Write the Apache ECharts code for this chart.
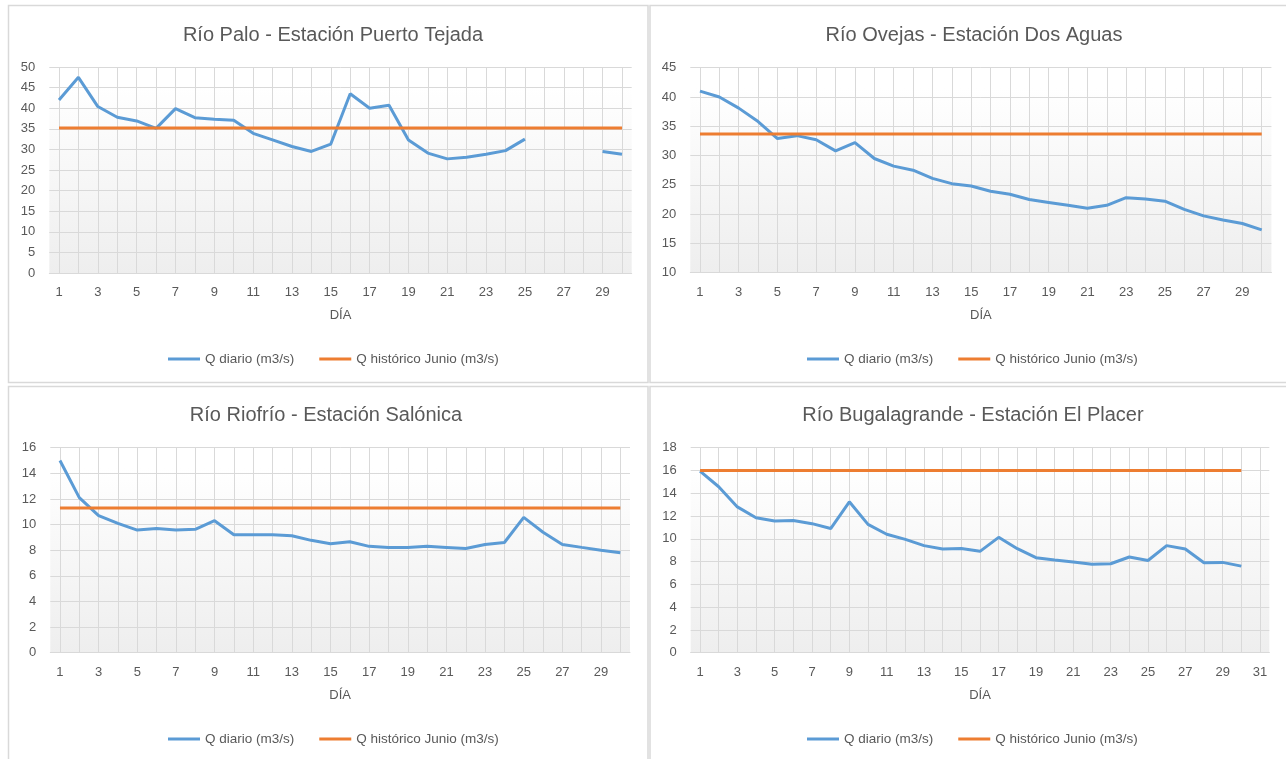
<!DOCTYPE html>
<html>
<head>
<meta charset="utf-8">
<script src="https://cdn.jsdelivr.net/npm/echarts@6/dist/echarts.min.js"></script>
<style>
html,body{margin:0;padding:0;background:#fff;}
#c{width:1286px;height:759px;}
</style>
</head>
<body>
<div id="c"></div>
<script>
// ---- Data ----
const dias30 = ['1','2','3','4','5','6','7','8','9','10','11','12','13','14','15','16','17','18','19','20','21','22','23','24','25','26','27','28','29','30'];
const dias31 = ['1','2','3','4','5','6','7','8','9','10','11','12','13','14','15','16','17','18','19','20','21','22','23','24','25','26','27','28','29','30','31'];

const titulos = ['Río Palo - Estación Puerto Tejada', 'Río Ovejas - Estación Dos Aguas', 'Río Riofrío - Estación Salónica', 'Río Bugalagrande - Estación El Placer'];
const nombreDiario = 'Q diario (m3/s)';
const nombreHistorico = 'Q histórico Junio (m3/s)';
const nombreEje = 'DÍA';

const palo_diario = [42.0, 47.5, 40.4, 37.8, 36.9, 35.1, 39.9, 37.7, 37.3, 37.1, 33.9, 32.3, 30.7, 29.5, 31.3, 43.5, 40.0, 40.7, 32.3, 29.1, 27.7, 28.1, 28.8, 29.7, 32.5, null, null, null, 29.5, 28.8];
const palo_historico = [35.2, 35.2, 35.2, 35.2, 35.2, 35.2, 35.2, 35.2, 35.2, 35.2, 35.2, 35.2, 35.2, 35.2, 35.2, 35.2, 35.2, 35.2, 35.2, 35.2, 35.2, 35.2, 35.2, 35.2, 35.2, 35.2, 35.2, 35.2, 35.2, 35.2];

const ovejas_diario = [41.0, 40.0, 38.1, 35.8, 32.9, 33.4, 32.7, 30.8, 32.2, 29.5, 28.2, 27.5, 26.1, 25.2, 24.8, 23.9, 23.4, 22.5, 22.0, 21.5, 21.0, 21.5, 22.8, 22.6, 22.2, 20.8, 19.7, 19.0, 18.4, 17.3];
const ovejas_historico = [33.7, 33.7, 33.7, 33.7, 33.7, 33.7, 33.7, 33.7, 33.7, 33.7, 33.7, 33.7, 33.7, 33.7, 33.7, 33.7, 33.7, 33.7, 33.7, 33.7, 33.7, 33.7, 33.7, 33.7, 33.7, 33.7, 33.7, 33.7, 33.7, 33.7];

const riofrio_diario = [15.0, 12.1, 10.7, 10.1, 9.57, 9.7, 9.57, 9.63, 10.3, 9.2, 9.2, 9.2, 9.13, 8.77, 8.5, 8.66, 8.3, 8.22, 8.22, 8.3, 8.22, 8.14, 8.45, 8.6, 10.56, 9.4, 8.45, 8.22, 8.0, 7.8];
const riofrio_historico = [11.3, 11.3, 11.3, 11.3, 11.3, 11.3, 11.3, 11.3, 11.3, 11.3, 11.3, 11.3, 11.3, 11.3, 11.3, 11.3, 11.3, 11.3, 11.3, 11.3, 11.3, 11.3, 11.3, 11.3, 11.3, 11.3, 11.3, 11.3, 11.3, 11.3];

const bugala_diario = [15.95, 14.57, 12.8, 11.85, 11.56, 11.6, 11.33, 10.9, 13.25, 11.27, 10.4, 9.95, 9.4, 9.1, 9.15, 8.9, 10.13, 9.13, 8.34, 8.14, 7.96, 7.76, 7.81, 8.4, 8.1, 9.4, 9.1, 7.9, 7.93, 7.6, null];
const bugala_historico = [16.0, 16.0, 16.0, 16.0, 16.0, 16.0, 16.0, 16.0, 16.0, 16.0, 16.0, 16.0, 16.0, 16.0, 16.0, 16.0, 16.0, 16.0, 16.0, 16.0, 16.0, 16.0, 16.0, 16.0, 16.0, 16.0, 16.0, 16.0, 16.0, 16.0, null];

// y-axis ranges: [min, max, interval]
const ejesY = [[0, 50, 5], [10, 45, 5], [0, 16, 2], [0, 18, 2]];

// ---- Layout / style ----
const FONT = 'Liberation Sans';
const GREY = '#595959';
const GRID_COLOR = '#d9d9d9';
const BLUE = '#5B9BD5';
const ORANGE = '#ED7D31';

const panels = [
  {grid: {left: 49.3, top: 67, width: 582.4, height: 206}, titleX: 328, titleY: 20, legendX: 163, legendY: 347, cats: dias30, diario: palo_diario, hist: palo_historico},
  {grid: {left: 690.3, top: 67.7, width: 581.1, height: 205}, titleX: 969, titleY: 20, legendX: 802, legendY: 347, cats: dias30, diario: ovejas_diario, hist: ovejas_historico},
  {grid: {left: 50.3, top: 447.7, width: 579.7, height: 205}, titleX: 321, titleY: 400, legendX: 163, legendY: 727, cats: dias30, diario: riofrio_diario, hist: riofrio_historico},
  {grid: {left: 690.7, top: 447.7, width: 578.6, height: 205}, titleX: 968, titleY: 400, legendX: 802, legendY: 727, cats: dias31, diario: bugala_diario, hist: bugala_historico}
];

const bgGradient = {
  type: 'linear', x: 0, y: 0, x2: 0, y2: 1,
  colorStops: [
    {offset: 0, color: '#ffffff'},
    {offset: 0.1, color: '#ffffff'},
    {offset: 1, color: '#eeeeee'}
  ]
};

const option = {
  animation: false,
  backgroundColor: '#ffffff',
  textStyle: {fontFamily: FONT},
  title: [], legend: [], grid: [], xAxis: [], yAxis: [], series: [],
  graphic: [
    {type: 'rect', shape: {x: 8.5, y: 5.5, width: 639.5, height: 377}, style: {fill: 'none', stroke: GRID_COLOR, lineWidth: 1.5}, silent: true},
    {type: 'rect', shape: {x: 650, y: 5.5, width: 640, height: 377}, style: {fill: 'none', stroke: GRID_COLOR, lineWidth: 1.5}, silent: true},
    {type: 'rect', shape: {x: 8.5, y: 386.5, width: 639.5, height: 380}, style: {fill: 'none', stroke: GRID_COLOR, lineWidth: 1.5}, silent: true},
    {type: 'rect', shape: {x: 650, y: 386.5, width: 640, height: 380}, style: {fill: 'none', stroke: GRID_COLOR, lineWidth: 1.5}, silent: true}
  ]
};

panels.forEach((p, i) => {
  option.title.push({
    text: titulos[i], left: p.titleX, top: p.titleY, textAlign: 'center',
    textStyle: {fontFamily: FONT, fontSize: 20, fontWeight: 'normal', color: GREY}
  });
  option.legend.push({
    left: p.legendX, top: p.legendY, orient: 'horizontal',
    data: [nombreDiario, nombreHistorico],
    icon: 'rect', itemWidth: 32, itemHeight: 3, itemGap: 25,
    textStyle: {fontFamily: FONT, fontSize: 13.5, color: GREY},
    selectedMode: false
  });
  option.grid.push(Object.assign({show: true, backgroundColor: bgGradient, borderWidth: 0, containLabel: false}, p.grid));
  option.xAxis.push({
    type: 'category', gridIndex: i, data: p.cats, boundaryGap: true,
    name: nombreEje, nameLocation: 'middle', nameGap: 36,
    nameTextStyle: {fontFamily: FONT, fontSize: 13, color: GREY},
    axisLine: {show: true, lineStyle: {color: GRID_COLOR, width: 1}},
    axisTick: {show: false},
    axisLabel: {interval: 1, margin: 13, fontFamily: FONT, fontSize: 13, color: GREY},
    splitLine: {show: true, interval: 0, alignWithLabel: true, lineStyle: {color: GRID_COLOR, width: 1}}
  });
  option.yAxis.push({
    type: 'value', gridIndex: i, min: ejesY[i][0], max: ejesY[i][1], interval: ejesY[i][2],
    axisLine: {show: false}, axisTick: {show: false},
    axisLabel: {margin: 14, fontFamily: FONT, fontSize: 13, color: GREY},
    splitLine: {show: true, lineStyle: {color: GRID_COLOR, width: 1}}
  });
  option.series.push({
    name: nombreDiario, type: 'line', xAxisIndex: i, yAxisIndex: i, data: p.diario,
    symbol: 'none', connectNulls: false, lineStyle: {color: BLUE, width: 3}, itemStyle: {color: BLUE}
  });
  option.series.push({
    name: nombreHistorico, type: 'line', xAxisIndex: i, yAxisIndex: i, data: p.hist,
    symbol: 'none', lineStyle: {color: ORANGE, width: 3}, itemStyle: {color: ORANGE}
  });
});

const chart = echarts.init(document.getElementById('c'), null, {renderer: 'canvas'});
chart.setOption(option);
</script>
</body>
</html>
